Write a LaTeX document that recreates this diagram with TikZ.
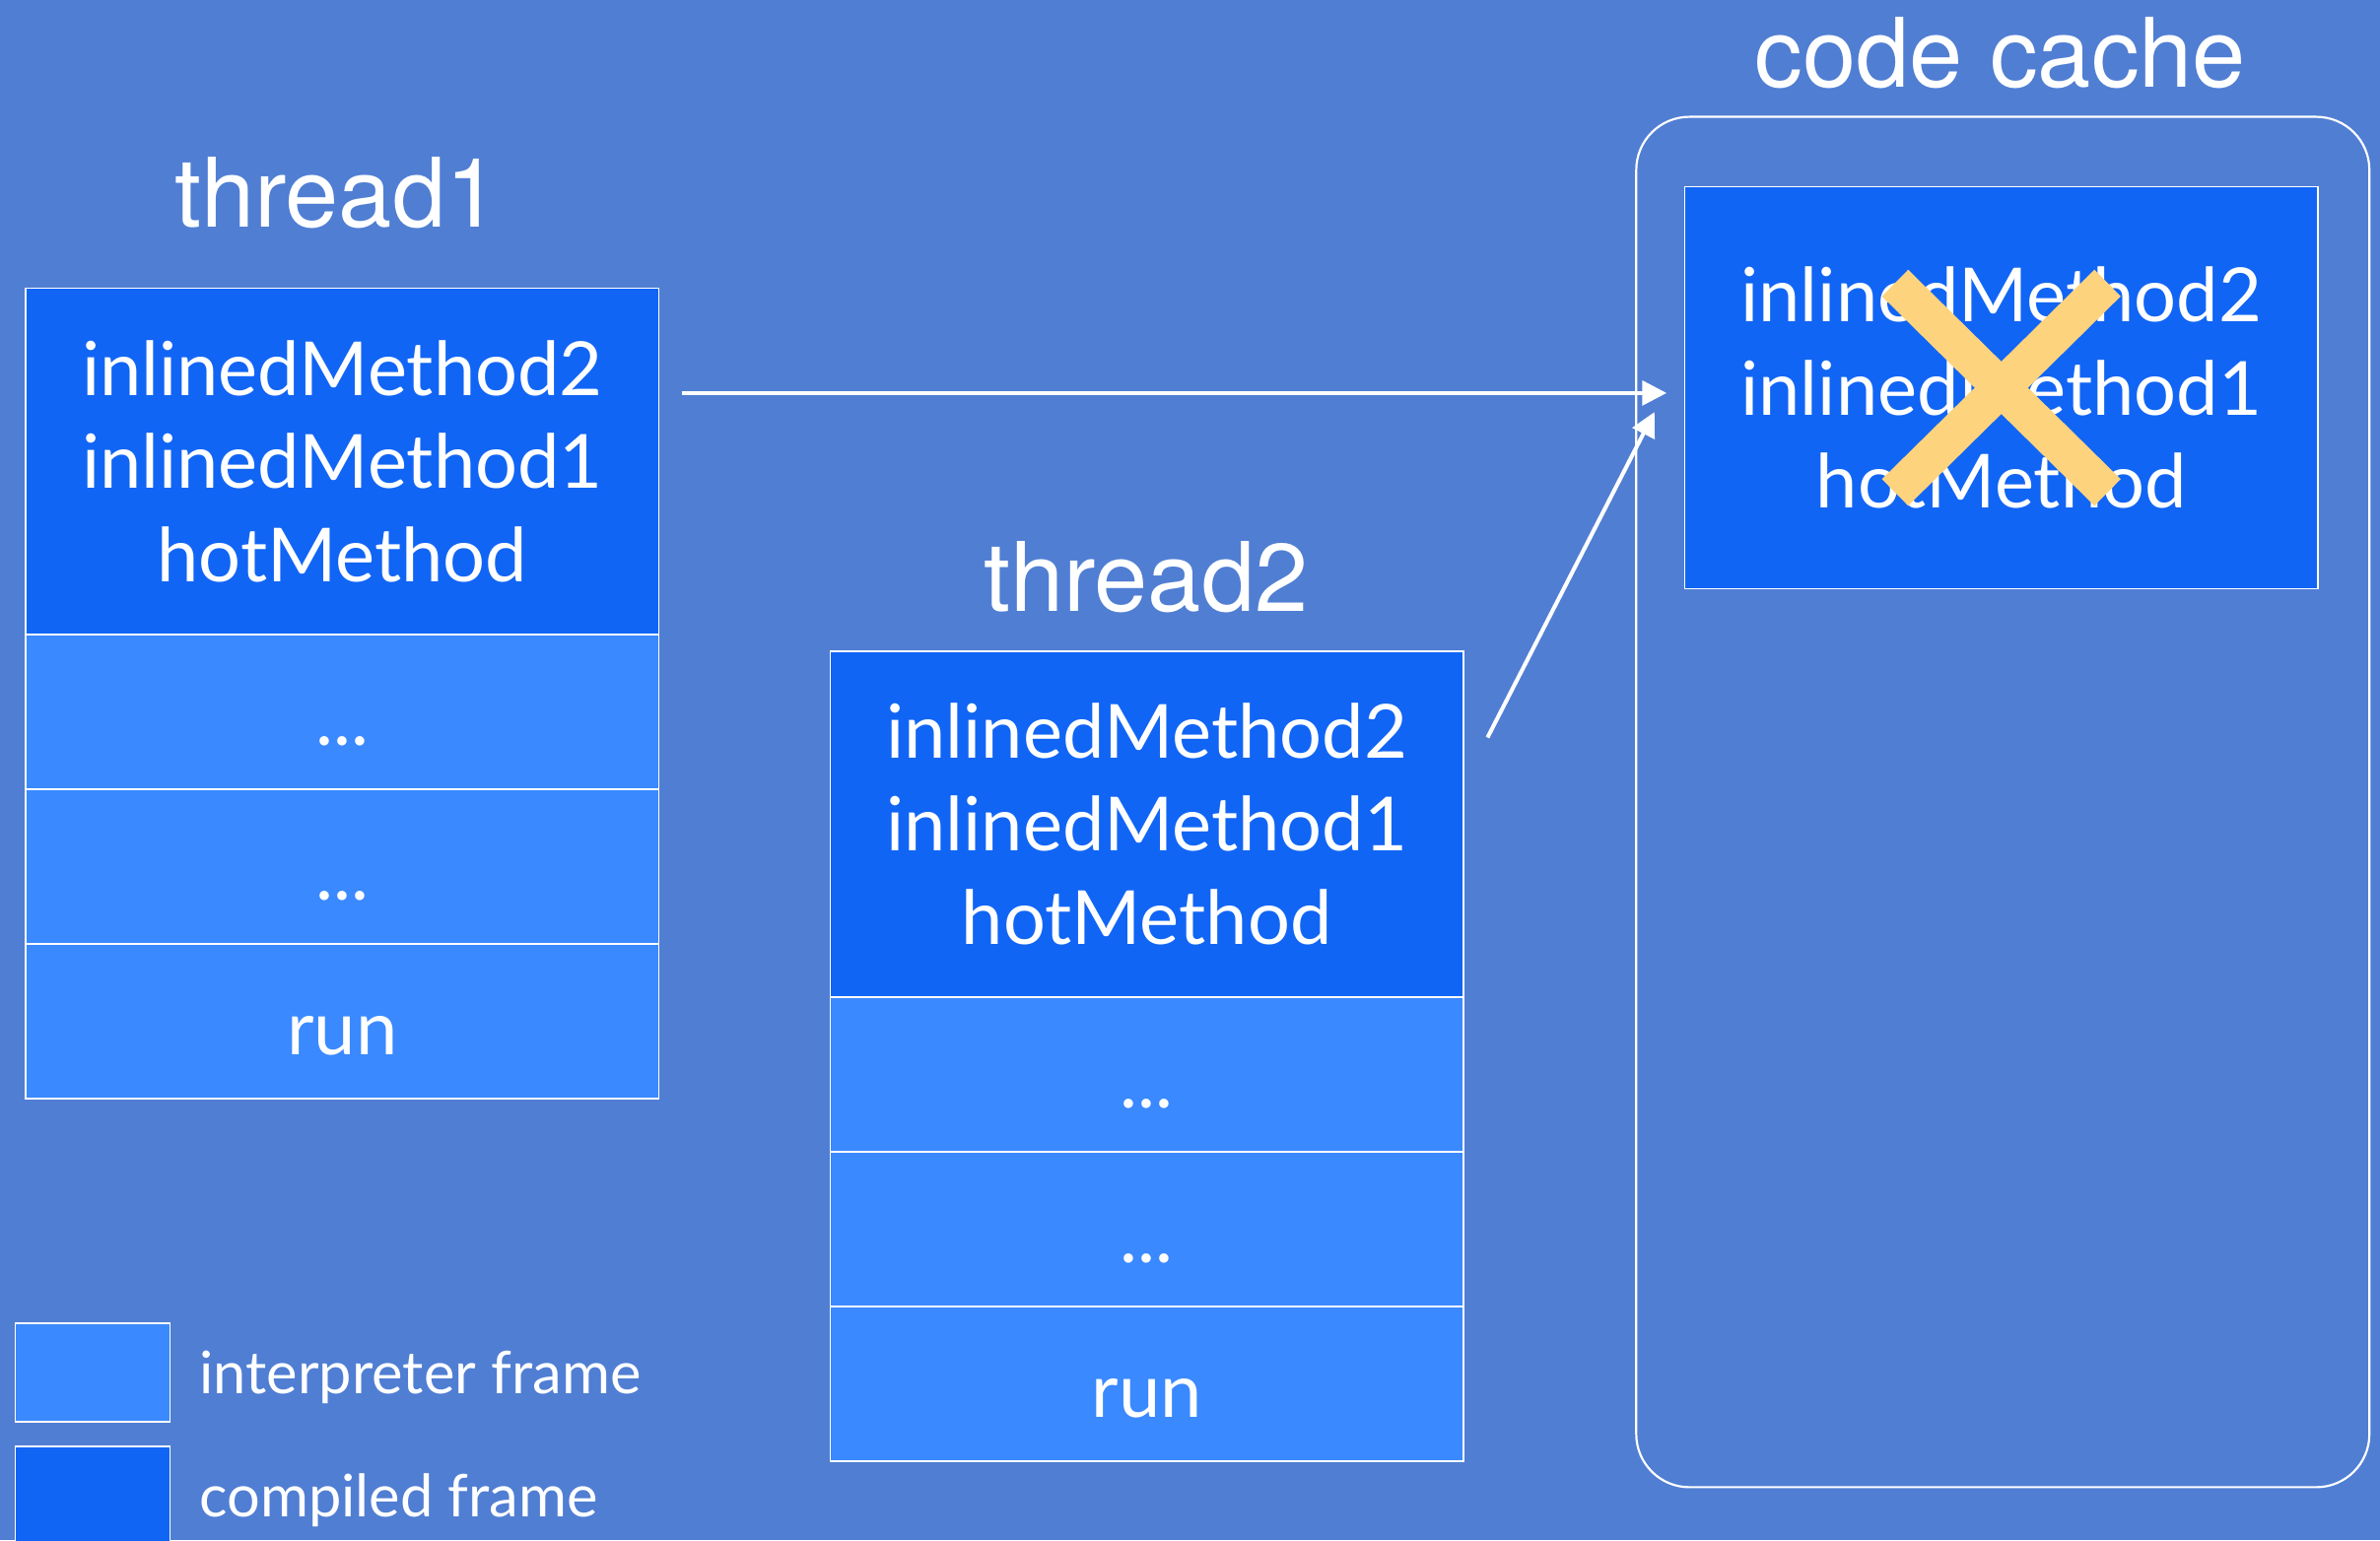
\documentclass[tikz,border=0pt]{standalone}
\usepackage{fontspec}
\setmainfont{Lato}
\newfontfamily\headfont{TeX Gyre Heros}
\usetikzlibrary{positioning,calc,arrows.meta}

\begin{document}
\begin{tikzpicture}[x=0.2mm, y=-0.2mm,
    frame/.style={draw=white, line width=0.6pt, outer sep=0pt, inner sep=0pt,
        minimum width=83.4mm, text=white,
        font=\fontsize{28}{35}\selectfont},
    compiled/.style={frame, fill=compblue, minimum height=45.6mm, align=center},
    interp/.style={frame, fill=interpblue, minimum height=20.4mm,
        text height=28pt, text depth=3pt},
    title/.style={text=white, font=\headfont\fontsize{36}{40}\selectfont},
    link/.style={draw=white, line width=1.5pt,
        -{Triangle[length=3.2mm, width=3.2mm]}},
    cross/.style={draw=crossyellow, line width=14pt},
    key/.style={draw=white, line width=0.6pt, outer sep=0pt,
        minimum width=20.4mm, minimum height=13mm, inner sep=0pt},
    keytext/.style={text=white, inner sep=0pt, text depth=0pt,
        font=\fontsize{22}{26}\selectfont}]

    % Slide colours
    \definecolor{bgblue}{RGB}{80,126,211}
    \definecolor{compblue}{RGB}{17,101,245}
    \definecolor{interpblue}{RGB}{58,137,255}
    \definecolor{crossyellow}{RGB}{253,211,125}

    % Background
    \fill[bgblue] (0,0) rectangle (1568,1015);
    \useasboundingbox (0,0) rectangle (1568,1015);

    % Stack of thread1
    \node[title] (t1title) at (222,127) {thread1};
    \node[compiled] (t1comp) at (225.5,304) {inlinedMethod2\\inlinedMethod1\\hotMethod};
    \node[interp, below=0pt of t1comp] (t1a) {...};
    \node[interp, below=0pt of t1a] (t1b) {...};
    \node[interp, below=0pt of t1b] (t1run) {run};

    % Stack of thread2
    \node[title] (t2title) at (755,380) {thread2};
    \node[compiled] (t2comp) at (755.5,543) {inlinedMethod2\\inlinedMethod1\\hotMethod};
    \node[interp, below=0pt of t2comp] (t2a) {...};
    \node[interp, below=0pt of t2a] (t2b) {...};
    \node[interp, below=0pt of t2b] (t2run) {run};

    % Code cache with the compiled method
    \node[title] (cctitle) at (1318,35) {code cache};
    \node[draw=white, line width=0.8pt, rounded corners=7mm,
        minimum width=96.6mm, minimum height=180.6mm] (cache) at (1319.5,528.5) {};
    \node[compiled, minimum height=53mm] (cmcomp) at (1318.5,255.5)
        {inlinedMethod2\\inlinedMethod1\\hotMethod};

    % Both threads point at the same code
    \draw[link, shorten <=3mm, shorten >=2.4mm]
        ([yshift=-0.7mm]t1comp.east |- cmcomp.west) -- ([yshift=-0.7mm]cmcomp.west);
    \draw[link] ($(t2comp.east)+(16,-57)$) -- ($(cmcomp.west)+(-20,16)$);

    % Invalidated code
    \draw[cross] ($(cmcomp)+(-70,-69)$) -- ($(cmcomp)+(70,69)$);
    \draw[cross] ($(cmcomp)+(70,-69)$) -- ($(cmcomp)+(-70,69)$);

    % Legend
    \node[key, fill=interpblue] (keyint) at (61,904.5) {};
    \node[key, fill=compblue] (keycomp) at (61,985.5) {};
    \node[keytext, right=3.8mm of keyint] (keyinttext) {interpreter frame};
    \node[keytext, right=3.8mm of keycomp] (keycomptext) {compiled frame};
\end{tikzpicture}
\end{document}
